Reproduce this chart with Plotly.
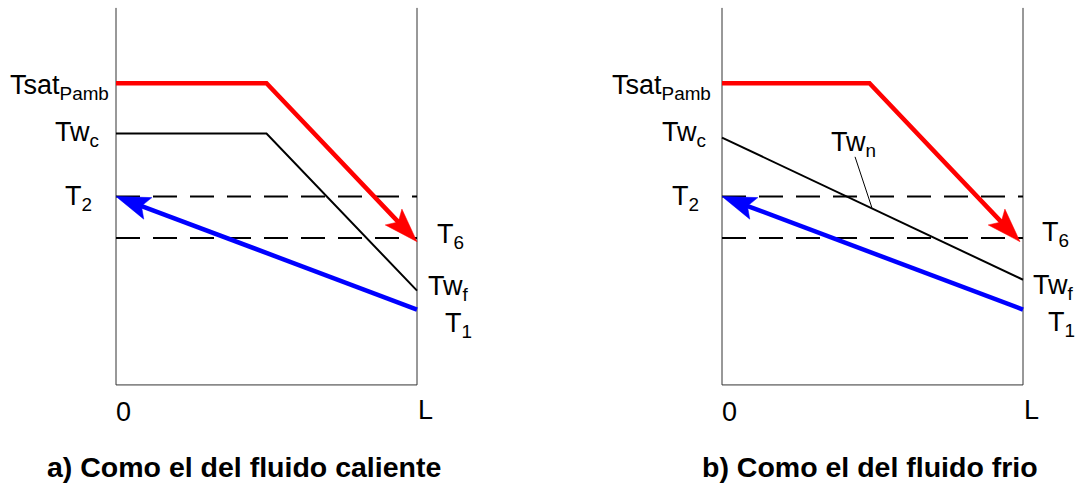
import math
import plotly.graph_objects as go

# ---------------- data (schematic temperature profiles) ----------------
L_POS = [0.0, 1.0]                      # positions 0 .. L
AXIS_TOP = 100.0
# panel a) hot-fluid controlled wall
red_x_a = [0.0, 0.5, 1.0]
red_T_a = [80.0, 80.0, 38.0]            # Tsat_Pamb -> T6
wall_x_a = [0.0, 0.5, 1.0]
wall_T_a = [66.7, 66.7, 25.0]           # Tw_c -> Tw_f
blue_x = [1.0, 0.0]
blue_T = [20.0, 50.0]                   # T1 -> T2
T2_level = 50.0
T6_level = 39.0
# panel b) cold-fluid controlled wall
red_x_b = [0.0, 0.49, 0.99]
red_T_b = [80.0, 80.0, 38.0]
wall_x_b = [0.0, 1.0]
wall_T_b = [65.6, 27.9]
twn_leader_x = [0.442, 0.498]
twn_leader_T = [60.5, 47.0]

# ---------------- layout constants ----------------
W, H = 1076, 492
Y_RANGE = [-28.4, 102.1]
PAD = 0.1
PX_PER_X = 301.0
PANEL_LEFT = [116.0, 722.0]
SY = H / (Y_RANGE[1] - Y_RANGE[0])

RED = "#FF0000"
BLUE = "#0000FF"
FONT = "Liberation Sans, Arial, sans-serif"

fig = go.Figure()


def dom(left_px):
    l = left_px - PAD * PX_PER_X
    r = left_px + (1 + PAD) * PX_PER_X
    return [l / W, r / W]


def arrow(xs, ts, color, width, xa, ya, head_len=34.0, half_w=11.5):
    """Line with a notched arrowhead at its last point (computed in px space)."""
    x0, t0, x1, t1 = xs[-2], ts[-2], xs[-1], ts[-1]
    dxp = (x1 - x0) * PX_PER_X
    dyp = (t1 - t0) * SY
    n = math.hypot(dxp, dyp)
    ux, uy = dxp / n, dyp / n
    px_, py_ = -uy, ux

    def pt(a, b):
        return (x1 + (a * ux + b * px_) / PX_PER_X, t1 + (a * uy + b * py_) / SY)

    cut = pt(-0.7 * head_len, 0)
    lx = list(xs[:-1]) + [cut[0]]
    lt = list(ts[:-1]) + [cut[1]]
    fig.add_trace(go.Scatter(x=lx, y=lt, mode="lines",
                             line=dict(color=color, width=width),
                             xaxis=xa, yaxis=ya, hoverinfo="skip"))
    poly = [pt(0, 0), pt(-head_len, half_w), pt(-0.8 * head_len, 0),
            pt(-head_len, -half_w), pt(0, 0)]
    fig.add_trace(go.Scatter(x=[p[0] for p in poly], y=[p[1] for p in poly],
                             mode="lines", fill="toself", fillcolor=color,
                             line=dict(color=color, width=0.5),
                             xaxis=xa, yaxis=ya, hoverinfo="skip"))


def line(xs, ts, xa, ya, color="black", width=2, dash=None):
    fig.add_trace(go.Scatter(x=xs, y=ts, mode="lines",
                             line=dict(color=color, width=width, dash=dash),
                             xaxis=xa, yaxis=ya, hoverinfo="skip"))


panels = [
    dict(xa="x", ya="y", red_x=red_x_a, red_T=red_T_a, wall_x=wall_x_a, wall_T=wall_T_a),
    dict(xa="x2", ya="y2", red_x=red_x_b, red_T=red_T_b, wall_x=wall_x_b, wall_T=wall_T_b),
]

for p in panels:
    xa, ya = p["xa"], p["ya"]
    # frame (left, bottom, right)
    line([L_POS[0], L_POS[0], L_POS[1], L_POS[1]], [AXIS_TOP, 0, 0, AXIS_TOP], xa, ya,
         color="#333333", width=1)
    # dashed levels
    line(L_POS, [T2_level, T2_level], xa, ya, width=2, dash="24px,13px")
    line(L_POS, [T6_level, T6_level], xa, ya, width=2, dash="24px,13px")
    # wall temperature
    line(p["wall_x"], p["wall_T"], xa, ya, width=2)
    # hot fluid
    arrow(p["red_x"], p["red_T"], RED, 4.5, xa, ya)
    # cold fluid
    arrow(blue_x, blue_T, BLUE, 4.5, xa, ya)

line(twn_leader_x, twn_leader_T, "x2", "y2", width=1)

fig.update_layout(
    width=W, height=H, margin=dict(l=0, r=0, t=0, b=0),
    paper_bgcolor="white", plot_bgcolor="white", showlegend=False,
    xaxis=dict(domain=dom(PANEL_LEFT[0]), range=[-PAD, 1 + PAD], visible=False),
    xaxis2=dict(domain=dom(PANEL_LEFT[1]), range=[-PAD, 1 + PAD], visible=False),
    yaxis=dict(range=Y_RANGE, visible=False, anchor="x"),
    yaxis2=dict(range=Y_RANGE, visible=False, anchor="x2"),
    font=dict(family=FONT, color="black", size=27),
)

LABEL_SIZE = 27


def label(text, xa, ya, x, t, anchor, xshift=0, yshift=0, size=LABEL_SIZE):
    fig.add_annotation(text=text, xref=xa, yref=ya, x=x, y=t, xanchor=anchor,
                       yanchor="middle", showarrow=False, xshift=xshift, yshift=yshift,
                       font=dict(size=size, family=FONT, color="black"))


# panel a labels
label("Tsat<sub>Pamb</sub>", "x", "y", 0, red_T_a[0], "right", -5, -4)
label("Tw<sub>c</sub>", "x", "y", 0, wall_T_a[0], "right", -15, -0.5)
label("T<sub>2</sub>", "x", "y", 0, T2_level, "right", -22, -2)
label("T<sub>6</sub>", "x", "y", 1, T6_level, "left", 18, 1.4)
label("Tw<sub>f</sub>", "x", "y", 1, wall_T_a[-1], "left", 9, 3)
label("T<sub>1</sub>", "x", "y", 1, blue_T[0], "left", 26, -15.5)
label("0", "x", "y", 0, 0, "center", 7, -27)
label("L", "x", "y", 1, 0, "center", 8, -25)
# panel b labels
label("Tsat<sub>Pamb</sub>", "x2", "y2", 0, red_T_b[0], "right", -9, -4)
label("Tw<sub>c</sub>", "x2", "y2", 0, wall_T_b[0], "right", -14, 3.6)
label("T<sub>2</sub>", "x2", "y2", 0, T2_level, "right", -21, -2)
label("T<sub>6</sub>", "x2", "y2", 1, T6_level, "left", 17, 3.4)
label("Tw<sub>f</sub>", "x2", "y2", 1, wall_T_b[-1], "left", 8, -7.5)
label("T<sub>1</sub>", "x2", "y2", 1, blue_T[0], "left", 23, -14.5)
label("0", "x2", "y2", 0, 0, "center", 7, -27)
label("L", "x2", "y2", 1, 0, "center", 8, -25)
label("Tw<sub>n</sub>", "x2", "y2", twn_leader_x[0], twn_leader_T[0], "center", -2, 13)

# captions
for txt, cx in [("a) Como el del fluido caliente", 243.5),
                ("b) Como el del fluido frio", 869.5)]:
    fig.add_annotation(text="<b>%s</b>" % txt, xref="paper", yref="paper",
                       x=cx / W, y=1 - 467 / H, xanchor="center", yanchor="middle",
                       showarrow=False, font=dict(size=28.5, family=FONT, color="black"))

fig.write_html("out.html")
